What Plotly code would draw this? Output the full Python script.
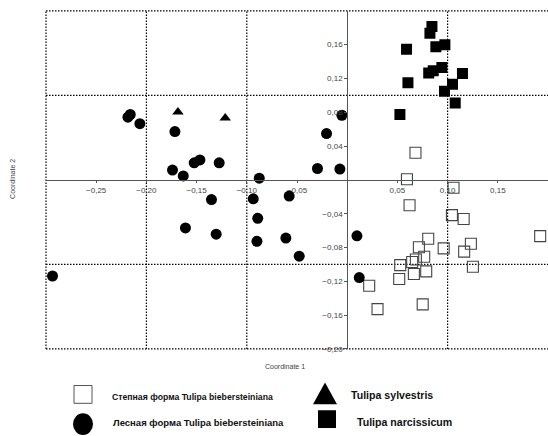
import plotly.graph_objects as go

W, H = 548, 436

# ---- data ----
steppe_x = [0.0680, 0.0595, 0.1059, 0.0621, 0.1043, 0.1160, 0.0807, 0.0714, 0.0961, 0.0767,
            0.0684, 0.0647, 0.0528, 0.0664, 0.0787, 0.0518, 0.0219, 0.0302, 0.0752, 0.1232,
            0.1165, 0.1252, 0.1922]
steppe_y = [0.0322, 0.0007, -0.0093, -0.0300, -0.0417, -0.0463, -0.0697, -0.0796, -0.0810, -0.0910,
            -0.0942, -0.0971, -0.1008, -0.1113, -0.1082, -0.1172, -0.1253, -0.1529, -0.1473, -0.0755,
            -0.0848, -0.1027, -0.0665]

forest_x = [-0.2184, -0.2161, -0.2065, -0.1716, -0.1524, -0.1467, -0.1275, -0.1740, -0.1633, -0.0876,
            -0.1352, -0.0936, -0.0891, -0.1611, -0.1305, -0.0899, -0.0053, -0.0206, -0.0296, -0.0073,
            -0.0578, -0.0611, -0.0478, 0.0097, 0.0120, -0.2935]
forest_y = [0.0742, 0.0774, 0.0665, 0.0572, 0.0202, 0.0237, 0.0202, 0.0117, 0.0047, 0.0021,
            -0.0233, -0.0224, -0.0455, -0.0568, -0.0642, -0.0726, 0.0765, 0.0548, 0.0135, 0.0128,
            -0.0191, -0.0688, -0.0903, -0.0662, -0.1155, -0.1137]

sylv_x = [-0.1686, -0.1215]
sylv_y = [0.0803, 0.0733]

narc_x = [0.0844, 0.0824, 0.0591, 0.0883, 0.0973, 0.0812, 0.0857, 0.0943, 0.1148, 0.0605,
          0.1049, 0.0969, 0.1076, 0.0525]
narc_y = [0.1816, 0.1734, 0.1547, 0.1575, 0.1599, 0.1264, 0.1293, 0.1330, 0.1260, 0.1151,
          0.1132, 0.1050, 0.0910, 0.0774]

x_ticks = [-0.25, -0.20, -0.15, -0.10, -0.05, 0.05, 0.10, 0.15]
y_ticks = [-0.20, -0.16, -0.12, -0.08, -0.04, 0.04, 0.08, 0.12, 0.16]
x_range = [-0.30, 0.20]
y_range = [-0.20, 0.20]
grid_x = [-0.2, -0.1, 0.1]
grid_y = [-0.1, 0.1]

legend_labels = ["Степная форма Tulipa biebersteiniana", "Лесная форма Tulipa biebersteiniana",
                 "Tulipa sylvestris", "Tulipa narcissicum"]
x_title = "Coordinate 1"
y_title = "Coordinate 2"


# ---- layout geometry (window pixels -> paper) ----
def px(x):
    return x / W


def py(y):
    return 1 - y / H


PL, PR, PT, PB = 46, 548, 11, 353
xdom = [px(PL), px(PR)]
ydom = [py(PB), py(PT)]

x0_pos = xdom[0] + (0 - x_range[0]) / (x_range[1] - x_range[0]) * (xdom[1] - xdom[0])
y0_pos = ydom[0] + (0 - y_range[0]) / (y_range[1] - y_range[0]) * (ydom[1] - ydom[0])

fig = go.Figure()

fig.add_trace(go.Scatter(x=steppe_x, y=steppe_y, mode="markers", name=legend_labels[0],
                         marker=dict(symbol="square-open", size=11, color="#444",
                                     line=dict(width=1.1, color="#444"))))
fig.add_trace(go.Scatter(x=forest_x, y=forest_y, mode="markers", name=legend_labels[1],
                         marker=dict(symbol="circle", size=11, color="black")))
fig.add_trace(go.Scatter(x=sylv_x, y=sylv_y, mode="markers", name=legend_labels[2],
                         marker=dict(symbol="triangle-up", size=10, color="black")))
fig.add_trace(go.Scatter(x=narc_x, y=narc_y, mode="markers", name=legend_labels[3],
                         marker=dict(symbol="square", size=11, color="black")))

lf = "Liberation Sans, Arial, sans-serif"
tickfont = dict(family=lf, size=8, color="#444")

fig.update_layout(
    width=W, height=H, margin=dict(l=0, r=0, t=0, b=0),
    paper_bgcolor="white", plot_bgcolor="white", showlegend=False,
    separators=", ",
    xaxis=dict(range=x_range, domain=xdom, anchor="free", position=y0_pos,
               tickvals=x_ticks, tickformat=".2f", ticks="outside", ticklen=2,
               tickcolor="#555", tickfont=tickfont, showline=True, linecolor="#555",
               linewidth=1, showgrid=False, zeroline=False),
    yaxis=dict(range=y_range, domain=ydom, anchor="free", position=x0_pos,
               tickvals=y_ticks, tickformat=".2f", ticks="outside", ticklen=3,
               tickcolor="#555", tickfont=tickfont, showline=True, linecolor="#555",
               linewidth=1, showgrid=False, zeroline=False),
)

dot = dict(color="black", width=1.2, dash="1.5px,1.5px")
shapes = []
for gx in grid_x:
    shapes.append(dict(type="line", xref="x", yref="y", x0=gx, x1=gx,
                       y0=y_range[0], y1=y_range[1], line=dot, layer="below"))
for gy in grid_y:
    shapes.append(dict(type="line", xref="x", yref="y", x0=x_range[0], x1=x_range[1],
                       y0=gy, y1=gy, line=dot, layer="below"))
# frame: left, top, bottom (right side falls outside the picture)
shapes.append(dict(type="line", xref="paper", yref="paper", x0=xdom[0], x1=xdom[0],
                   y0=ydom[0], y1=ydom[1], line=dot, layer="below"))
shapes.append(dict(type="line", xref="paper", yref="paper", x0=xdom[0], x1=xdom[1],
                   y0=ydom[1], y1=ydom[1], line=dot, layer="below"))
shapes.append(dict(type="line", xref="paper", yref="paper", x0=xdom[0], x1=xdom[1],
                   y0=ydom[0], y1=ydom[0], line=dot, layer="below"))

# legend keys
shapes.append(dict(type="rect", xref="paper", yref="paper", x0=px(74), x1=px(92),
                   y0=py(408), y1=py(390), line=dict(color="#555", width=1), fillcolor="white"))
shapes.append(dict(type="circle", xref="paper", yref="paper", x0=px(73), x1=px(93),
                   y0=py(440), y1=py(418), line=dict(width=0), fillcolor="black"))
shapes.append(dict(type="path", xref="paper", yref="paper",
                   path=f"M {px(313)} {py(409)} L {px(337)} {py(409)} L {px(325)} {py(387)} Z",
                   line=dict(width=0), fillcolor="black"))
shapes.append(dict(type="rect", xref="paper", yref="paper", x0=px(318), x1=px(336),
                   y0=py(433), y1=py(415), line=dict(width=0), fillcolor="black"))

ann = []
ann.append(dict(text=x_title, x=px(285), y=py(371), xref="paper", yref="paper",
                xanchor="center", yanchor="middle",
                showarrow=False, font=dict(family=lf, size=7, color="#444")))
ann.append(dict(text=y_title, x=px(13), y=py(181), xref="paper", yref="paper",
                xanchor="center", yanchor="middle",
                showarrow=False, textangle=-90, font=dict(family=lf, size=7, color="#444")))
ann.append(dict(text=f"<b>{legend_labels[0]}</b>", x=px(110), y=py(402), xref="paper",
                yref="paper", xanchor="left", yanchor="middle", showarrow=False,
                font=dict(family=lf, size=8.7, color="#111")))
ann.append(dict(text=f"<b>{legend_labels[1]}</b>", x=px(111), y=py(427), xref="paper",
                yref="paper", xanchor="left", yanchor="middle", showarrow=False,
                font=dict(family=lf, size=9.5, color="#111")))
ann.append(dict(text=f"<b>{legend_labels[2]}</b>", x=px(349), y=py(400), xref="paper",
                yref="paper", xanchor="left", yanchor="middle", showarrow=False,
                font=dict(family=lf, size=10.6, color="#111")))
ann.append(dict(text=f"<b>{legend_labels[3]}</b>", x=px(355), y=py(427), xref="paper",
                yref="paper", xanchor="left", yanchor="middle", showarrow=False,
                font=dict(family=lf, size=10.6, color="#111")))

fig.update_layout(shapes=shapes, annotations=ann)

fig.write_html("out.html", config=dict(displayModeBar=False),
               post_script="document.body.style.margin='0';document.body.style.overflow='hidden';")
